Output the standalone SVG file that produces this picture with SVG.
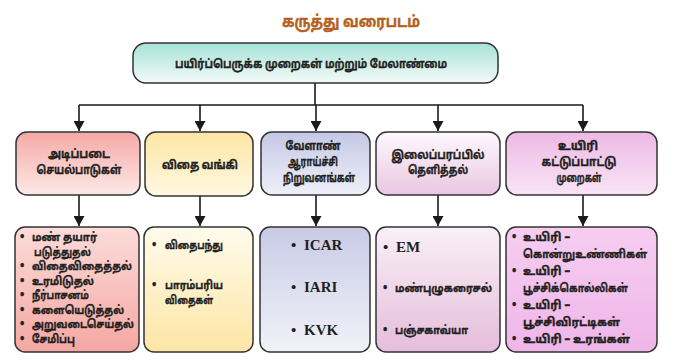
<svg xmlns="http://www.w3.org/2000/svg" width="685" height="360" viewBox="0 0 685 360">
<defs>
<linearGradient id="gTop" x1="0" y1="0" x2="0" y2="1"><stop offset="0" stop-color="#a6e2d6"/><stop offset="1" stop-color="#f4fbf9"/></linearGradient>
<linearGradient id="gH1" x1="0" y1="0" x2="0" y2="1"><stop offset="0" stop-color="#f5a9a6"/><stop offset="1" stop-color="#fde9e7"/></linearGradient>
<linearGradient id="gC1" x1="0" y1="0" x2="0" y2="1"><stop offset="0" stop-color="#fcdcd9"/><stop offset="1" stop-color="#f4a7a3"/></linearGradient>
<linearGradient id="gH2" x1="0" y1="0" x2="0" y2="1"><stop offset="0" stop-color="#fde6a4"/><stop offset="1" stop-color="#fff8e2"/></linearGradient>
<linearGradient id="gC2" x1="0" y1="0" x2="0" y2="1"><stop offset="0" stop-color="#fffbec"/><stop offset="1" stop-color="#fde6a4"/></linearGradient>
<linearGradient id="gH3" x1="0" y1="0" x2="0" y2="1"><stop offset="0" stop-color="#c5c8e6"/><stop offset="1" stop-color="#efeff8"/></linearGradient>
<linearGradient id="gC3" x1="0" y1="0" x2="0" y2="1"><stop offset="0" stop-color="#c8cbe6"/><stop offset="1" stop-color="#f2f2f9"/></linearGradient>
<linearGradient id="gH4" x1="0" y1="0" x2="0" y2="1"><stop offset="0" stop-color="#fdf9fc"/><stop offset="1" stop-color="#eac6e3"/></linearGradient>
<linearGradient id="gC4" x1="0" y1="0" x2="0" y2="1"><stop offset="0" stop-color="#f9f0f6"/><stop offset="1" stop-color="#e5bddb"/></linearGradient>
<linearGradient id="gH5" x1="0" y1="0" x2="0" y2="1"><stop offset="0" stop-color="#edb9e6"/><stop offset="1" stop-color="#f9e4f5"/></linearGradient>
<linearGradient id="gC5" x1="0" y1="0" x2="0" y2="1"><stop offset="0" stop-color="#f6cdf1"/><stop offset="1" stop-color="#efb6e8"/></linearGradient>
<marker id="arr" markerWidth="10" markerHeight="11" refX="10" refY="5.5" orient="auto" markerUnits="userSpaceOnUse"><path d="M0,0 L10,5.5 L0,11 z" fill="#1a1a1a"/></marker>
<style>
.box{stroke:#333;stroke-width:1.5}
.ta{font-family:"Noto Sans Tamil","Lohit Tamil","Noto Sans",sans-serif;font-weight:bold;fill:#231f20;stroke:#231f20;stroke-width:0.35}
.h{font-size:12px;text-anchor:middle}
.c{font-size:11.5px}
.en{font-family:"Liberation Serif","Times New Roman",serif;font-weight:bold;font-size:15px;fill:#231f20}
.ln{stroke:#1a1a1a;stroke-width:1.6;fill:none}
</style>
</defs>
<rect width="685" height="360" fill="#ffffff"/>
<text x="351" y="27" text-anchor="middle" font-family="'Noto Sans Tamil','Lohit Tamil','Noto Sans',sans-serif" font-weight="bold" font-size="16" fill="#b5601c" stroke="#b5601c" stroke-width="0.4" textLength="138" lengthAdjust="spacingAndGlyphs">கருத்து வரைபடம்</text>
<g id="connectors">
<path class="ln" d="M315,83 V105 M79,105 H583"/>
<path class="ln" d="M79,105 V131" marker-end="url(#arr)"/>
<path class="ln" d="M200,105 V131" marker-end="url(#arr)"/>
<path class="ln" d="M316,105 V131" marker-end="url(#arr)"/>
<path class="ln" d="M438,105 V131" marker-end="url(#arr)"/>
<path class="ln" d="M583,105 V131" marker-end="url(#arr)"/>
<path class="ln" d="M79,195 V226" marker-end="url(#arr)"/>
<path class="ln" d="M200,196 V226" marker-end="url(#arr)"/>
<path class="ln" d="M316,195 V226" marker-end="url(#arr)"/>
<path class="ln" d="M438,195 V226" marker-end="url(#arr)"/>
<path class="ln" d="M583,195 V226" marker-end="url(#arr)"/>
</g>
<g id="root">
<rect class="box" x="133" y="43" width="365" height="40" rx="13" fill="url(#gTop)"/>
<text class="ta h" x="311" y="68" textLength="272" lengthAdjust="spacingAndGlyphs">பயிர்ப்பெருக்க முறைகள் மற்றும் மேலாண்மை</text>
</g>
<g id="h1">
<rect class="box" x="16" y="132" width="124" height="63" rx="11" fill="url(#gH1)"/>
<text class="ta h" x="79" y="158" textLength="62" lengthAdjust="spacingAndGlyphs">அடிப்படை</text>
<text class="ta h" x="79" y="174" textLength="85" lengthAdjust="spacingAndGlyphs">செயல்பாடுகள்</text>
</g>
<g id="h2">
<rect class="box" x="145" y="132" width="108" height="64" rx="11" fill="url(#gH2)"/>
<text class="ta h" x="200" y="169" textLength="76" lengthAdjust="spacingAndGlyphs">விதை வங்கி</text>
</g>
<g id="h3">
<rect class="box" x="261" y="132" width="109" height="63" rx="11" fill="url(#gH3)"/>
<text class="ta h" x="313" y="150" textLength="55" lengthAdjust="spacingAndGlyphs">வேளாண்</text>
<text class="ta h" x="313" y="166" textLength="50" lengthAdjust="spacingAndGlyphs">ஆராய்ச்சி</text>
<text class="ta h" x="319" y="182" textLength="72" lengthAdjust="spacingAndGlyphs">நிறுவனங்கள்</text>
</g>
<g id="h4">
<rect class="box" x="376" y="132" width="124" height="63" rx="11" fill="url(#gH4)"/>
<text class="ta h" x="438" y="159" textLength="93" lengthAdjust="spacingAndGlyphs">இலைப்பரப்பில்</text>
<text class="ta h" x="438" y="174" textLength="60" lengthAdjust="spacingAndGlyphs">தெளித்தல்</text>
</g>
<g id="h5">
<rect class="box" x="506" y="132" width="151" height="63" rx="11" fill="url(#gH5)"/>
<text class="ta h" x="578" y="150" textLength="40" lengthAdjust="spacingAndGlyphs">உயிரி</text>
<text class="ta h" x="579" y="166" textLength="75" lengthAdjust="spacingAndGlyphs">கட்டுப்பாட்டு</text>
<text class="ta h" x="579" y="182" textLength="45" lengthAdjust="spacingAndGlyphs">முறைகள்</text>
</g>
<g id="c1">
<rect class="box" x="15" y="227" width="124" height="125" rx="10" fill="url(#gC1)"/>
<g class="ta c">
<text x="20" y="241">•</text><text x="32" y="241" textLength="65" lengthAdjust="spacingAndGlyphs">மண் தயார்</text>
<text x="34" y="255.5" textLength="57" lengthAdjust="spacingAndGlyphs">படுத்துதல்</text>
<text x="20" y="270">•</text><text x="32" y="270" textLength="100" lengthAdjust="spacingAndGlyphs">விதைவிதைத்தல்</text>
<text x="20" y="284.5">•</text><text x="32" y="284.5" textLength="62" lengthAdjust="spacingAndGlyphs">உரமிடுதல்</text>
<text x="20" y="299">•</text><text x="32" y="299" textLength="57" lengthAdjust="spacingAndGlyphs">நீர்பாசனம்</text>
<text x="20" y="313.5">•</text><text x="32" y="313.5" textLength="92" lengthAdjust="spacingAndGlyphs">களையெடுத்தல்</text>
<text x="20" y="328">•</text><text x="32" y="328" textLength="102" lengthAdjust="spacingAndGlyphs">அறுவடைசெய்தல்</text>
<text x="20" y="342.5">•</text><text x="32" y="342.5" textLength="43" lengthAdjust="spacingAndGlyphs">சேமிப்பு</text>
</g>
</g>
<g id="c2">
<rect class="box" x="144" y="227" width="109" height="125" rx="10" fill="url(#gC2)"/>
<g class="ta c">
<text x="152" y="249">•</text><text x="165" y="249" textLength="58" lengthAdjust="spacingAndGlyphs">விதைபந்து</text>
<text x="152" y="289">•</text><text x="165" y="289" textLength="58" lengthAdjust="spacingAndGlyphs">பாரம்பரிய</text>
<text x="165" y="304" textLength="48" lengthAdjust="spacingAndGlyphs">விதைகள்</text>
</g>
</g>
<g id="c3">
<rect class="box" x="260" y="227" width="110" height="125" rx="10" fill="url(#gC3)"/>
<text class="en" x="291" y="250">•</text><text class="en" x="304" y="250">ICAR</text>
<text class="en" x="291" y="292">•</text><text class="en" x="304" y="292">IARI</text>
<text class="en" x="291" y="335">•</text><text class="en" x="304" y="335">KVK</text>
</g>
<g id="c4">
<rect class="box" x="376" y="227" width="124" height="125" rx="10" fill="url(#gC4)"/>
<text class="en" x="383" y="252">•</text><text class="en" x="396" y="252">EM</text>
<g class="ta c">
<text x="383" y="292">•</text><text x="395" y="292" textLength="97" lengthAdjust="spacingAndGlyphs">மண்புழுகரைசல்</text>
<text x="383" y="334">•</text><text x="395" y="334" textLength="73" lengthAdjust="spacingAndGlyphs">பஞ்சகாவ்யா</text>
</g>
</g>
<g id="c5">
<rect class="box" x="506" y="227" width="151" height="125" rx="10" fill="url(#gC5)"/>
<g class="ta c">
<text x="512" y="241">•</text><text x="523" y="241" textLength="47" lengthAdjust="spacingAndGlyphs">உயிரி –</text>
<text x="523" y="258" textLength="124" lengthAdjust="spacingAndGlyphs">கொன்றுஉண்ணிகள்</text>
<text x="512" y="275">•</text><text x="523" y="275" textLength="47" lengthAdjust="spacingAndGlyphs">உயிரி –</text>
<text x="523" y="292" textLength="105" lengthAdjust="spacingAndGlyphs">பூச்சிக்கொல்லிகள்</text>
<text x="512" y="309">•</text><text x="523" y="309" textLength="47" lengthAdjust="spacingAndGlyphs">உயிரி –</text>
<text x="523" y="326" textLength="97" lengthAdjust="spacingAndGlyphs">பூச்சிவிரட்டிகள்</text>
<text x="512" y="343">•</text><text x="523" y="343" textLength="107" lengthAdjust="spacingAndGlyphs">உயிரி – உரங்கள்</text>
</g>
</g>
</svg>
